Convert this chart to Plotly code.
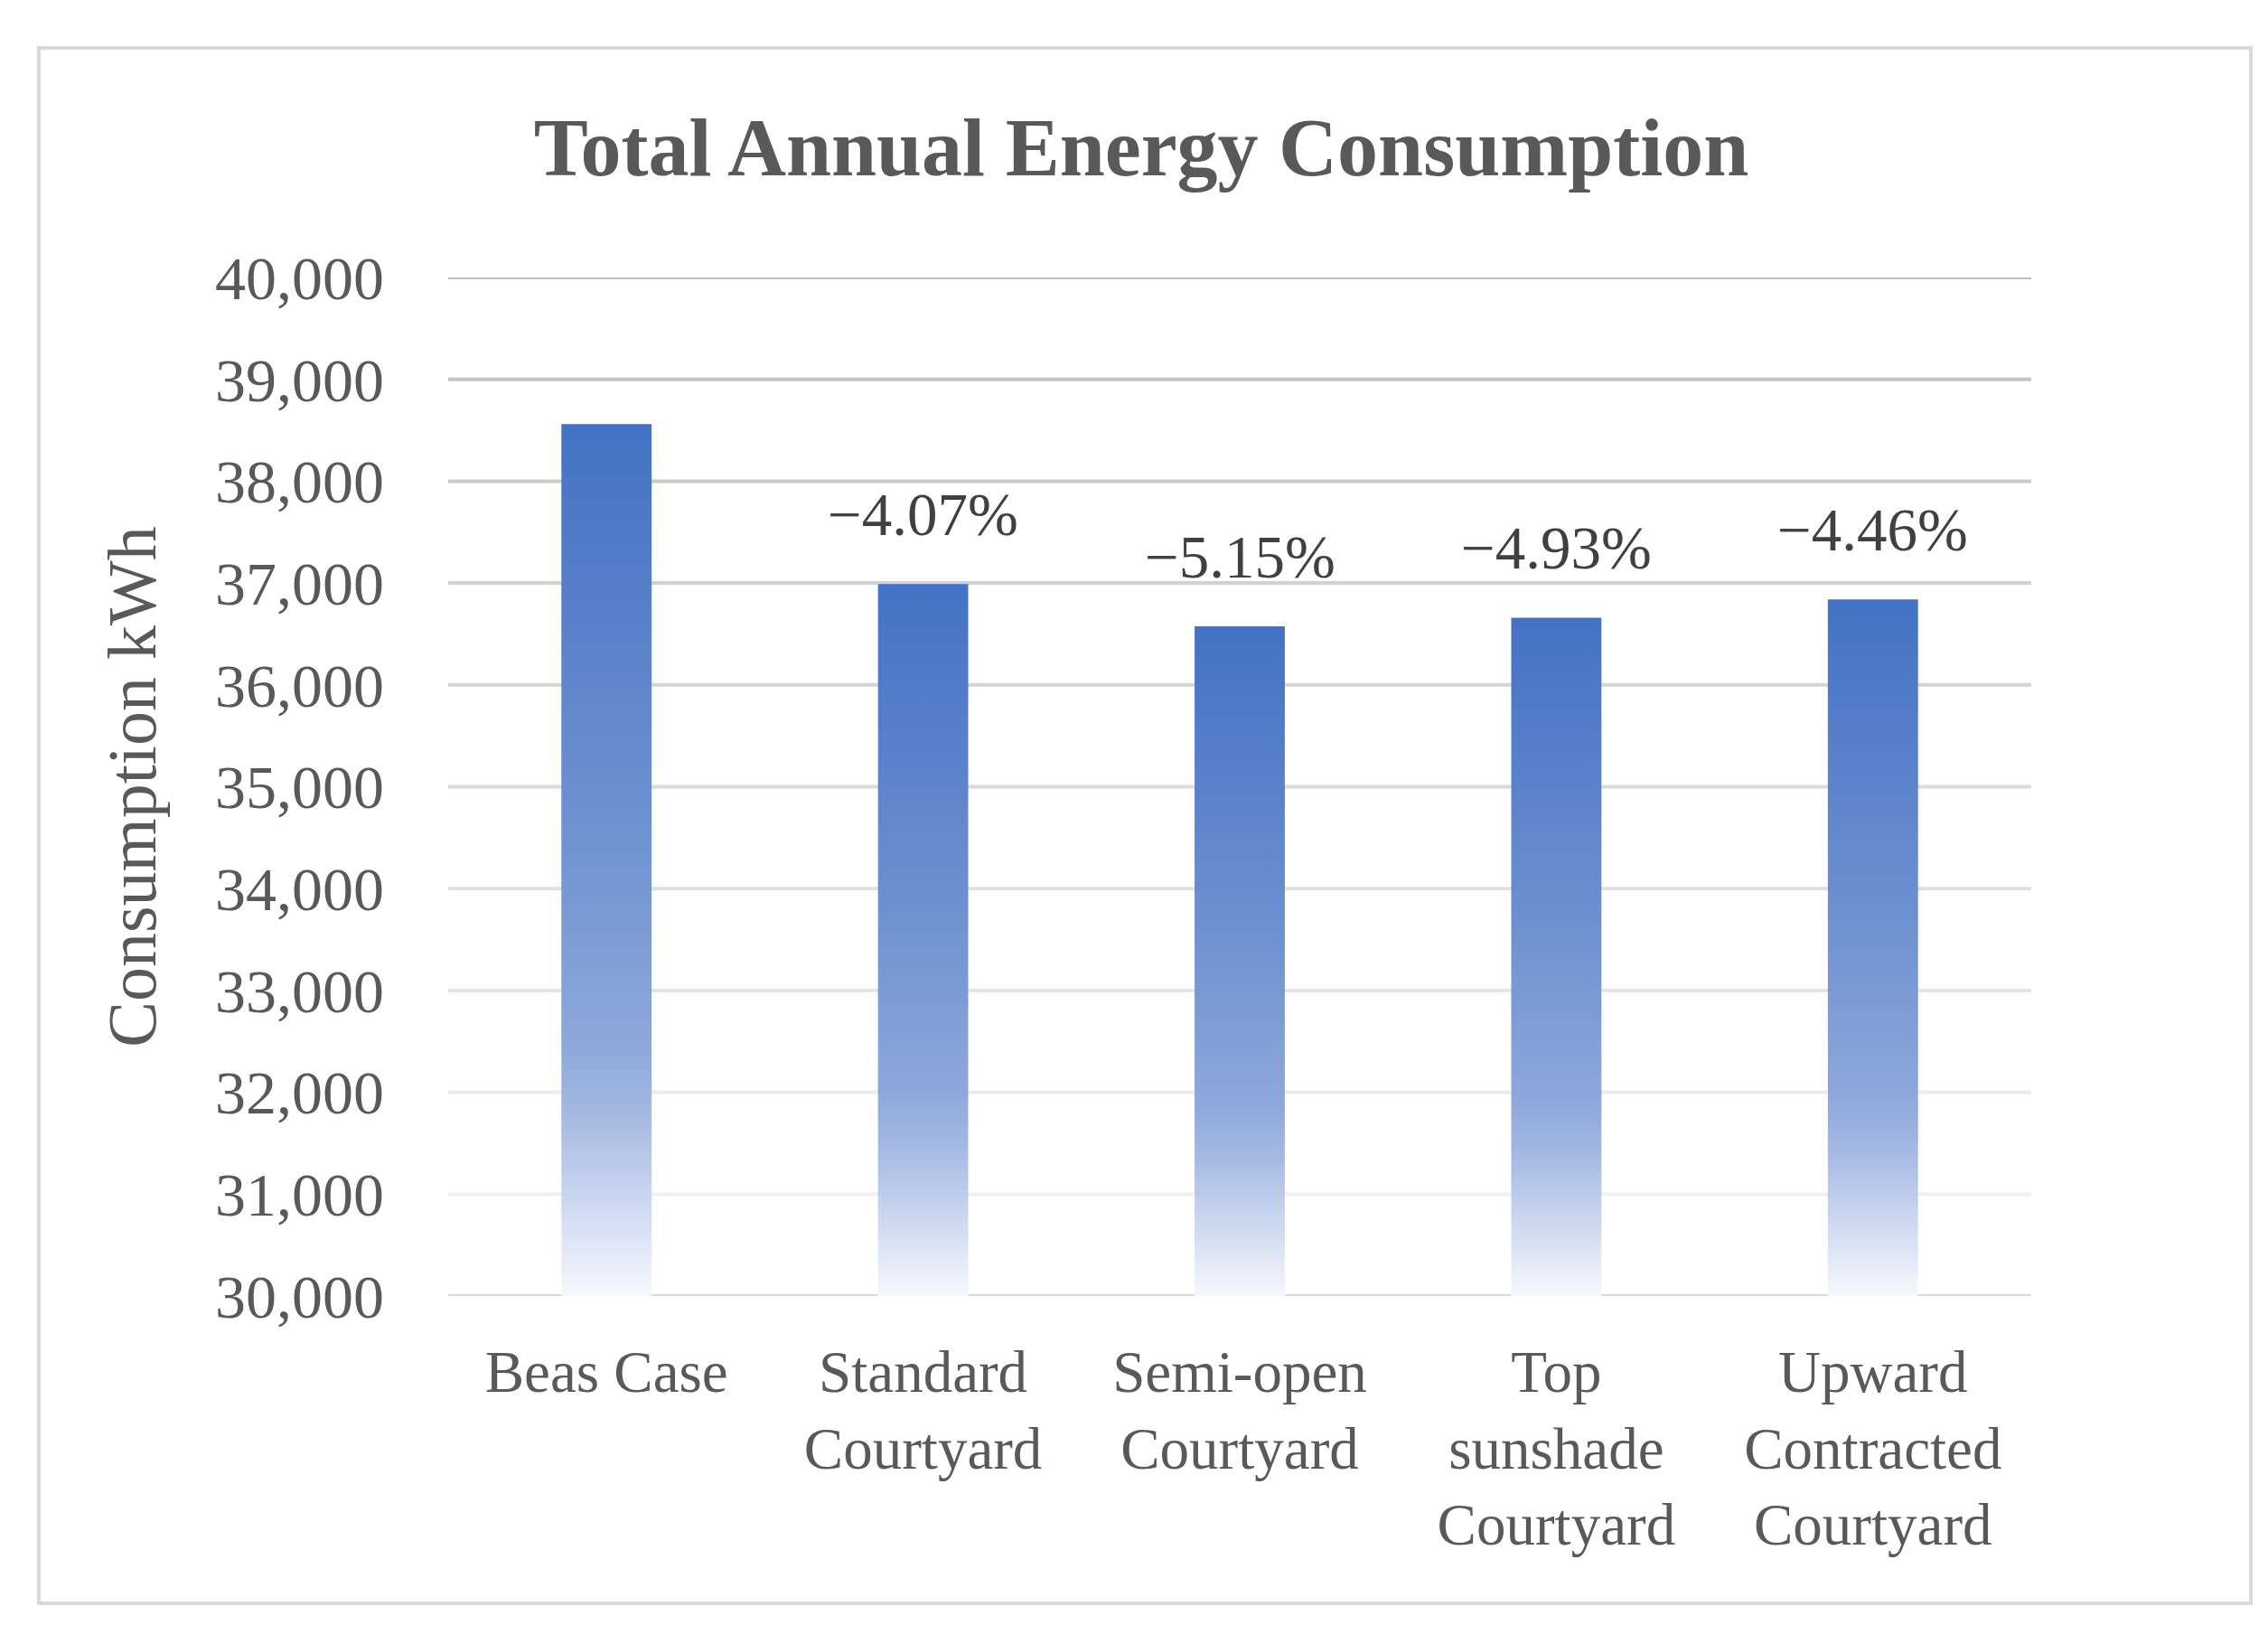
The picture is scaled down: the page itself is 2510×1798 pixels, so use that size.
import plotly.graph_objects as go

# ---- data ----
categories = ["Beas Case", "Standard<br>Courtyard", "Semi-open<br>Courtyard",
              "Top<br>sunshade<br>Courtyard", "Upward<br>Contracted<br>Courtyard"]
consumption = [38560, 36990, 36575, 36660, 36840]
pct_labels = ["", "\u22124.07%", "\u22125.15%", "\u22124.93%", "\u22124.46%"]
y_ticks = [30000, 31000, 32000, 33000, 34000, 35000, 36000, 37000, 38000, 39000, 40000]
y_min, y_max = 30000, 40000

# ---- style ----
W, H = 2510, 1798
L, R, T, B = 488, 270, 299, 372
bar_width = 0.285
text_col = "#595959"
label_col = "#404040"
serif = "Liberation Serif, Times New Roman, serif"
grad_scale = [[0.0, "#F6F8FD"], [0.045, "#E5EBF7"], [0.124, "#C6D3EE"],
              [0.207, "#A5B9E2"], [0.287, "#8DA8DB"], [0.55, "#6D90D0"], [1.0, "#4472C4"]]

fig = go.Figure()

xs = list(range(len(categories)))
hw = bar_width / 2
for i, v in zip(xs, consumption):
    fig.add_trace(go.Scatter(
        x=[i - hw, i - hw, i + hw, i + hw, i - hw],
        y=[y_min, v, v, y_min, y_min],
        mode="lines", fill="toself",
        line=dict(width=0, color="rgba(0,0,0,0)"),
        fillgradient=dict(type="vertical", colorscale=grad_scale),
        hoverinfo="skip", showlegend=False,
    ))

# data labels
for i, v, t in zip(xs, consumption, pct_labels):
    if t:
        fig.add_annotation(x=i, y=v, text=t, showarrow=False, yanchor="bottom",
                           yshift=38, font=dict(family=serif, size=67, color=label_col))

# gridlines (gradient of greys from top to bottom)
def lerp(c0, c1, f):
    return "#%02x%02x%02x" % tuple(round(a + (b - a) * f) for a, b in zip(c0, c1))

top_c, bot_c = (192, 192, 192), (240, 240, 240)
for v in y_ticks:
    if v == y_min:
        col = "#D9D9D9"
    else:
        f = (y_max - v) / (y_max - y_min - 1000)
        col = lerp(top_c, bot_c, f)
    fig.add_shape(type="line", xref="paper", yref="y", x0=0, x1=1, y0=v, y1=v,
                  line=dict(color=col, width=4), layer="below")

# outer border
pw, ph = W - L - R, H - T - B
fig.add_shape(type="rect", xref="paper", yref="paper",
              x0=(35 - L) / pw, x1=(2483 - L) / pw,
              y0=(H - B - 1766) / ph, y1=1 + (T - 45) / ph,
              line=dict(color="#D9D9D9", width=4), fillcolor="rgba(0,0,0,0)", layer="below")

fig.update_layout(
    width=W, height=H,
    margin=dict(l=L, r=R, t=T, b=B, autoexpand=False),
    paper_bgcolor="white", plot_bgcolor="white",
    title=dict(text="<b>Total Annual Energy Consumption</b>", x=0.5, xanchor="center",
               xref="container", yref="container", y=1 - 154 / H, yanchor="middle",
               font=dict(family=serif, size=90, color=text_col)),
    xaxis=dict(range=[-0.5, len(categories) - 0.5], tickmode="array", tickvals=xs,
               ticktext=categories, showgrid=False, zeroline=False, showline=False,
               ticks="", ticklabelstandoff=40,
               tickfont=dict(family=serif, size=65, color=text_col)),
    yaxis=dict(range=[y_min, y_max], tickmode="array", tickvals=y_ticks,
               tickformat=",", showgrid=False, zeroline=False, showline=False,
               ticks="", ticklabelstandoff=70,
               tickfont=dict(family=serif, size=68, color=text_col),
               title=dict(text="Consumption kWh", standoff=40,
                          font=dict(family=serif, size=76, color=text_col))),
)

fig.write_html("out.html")
